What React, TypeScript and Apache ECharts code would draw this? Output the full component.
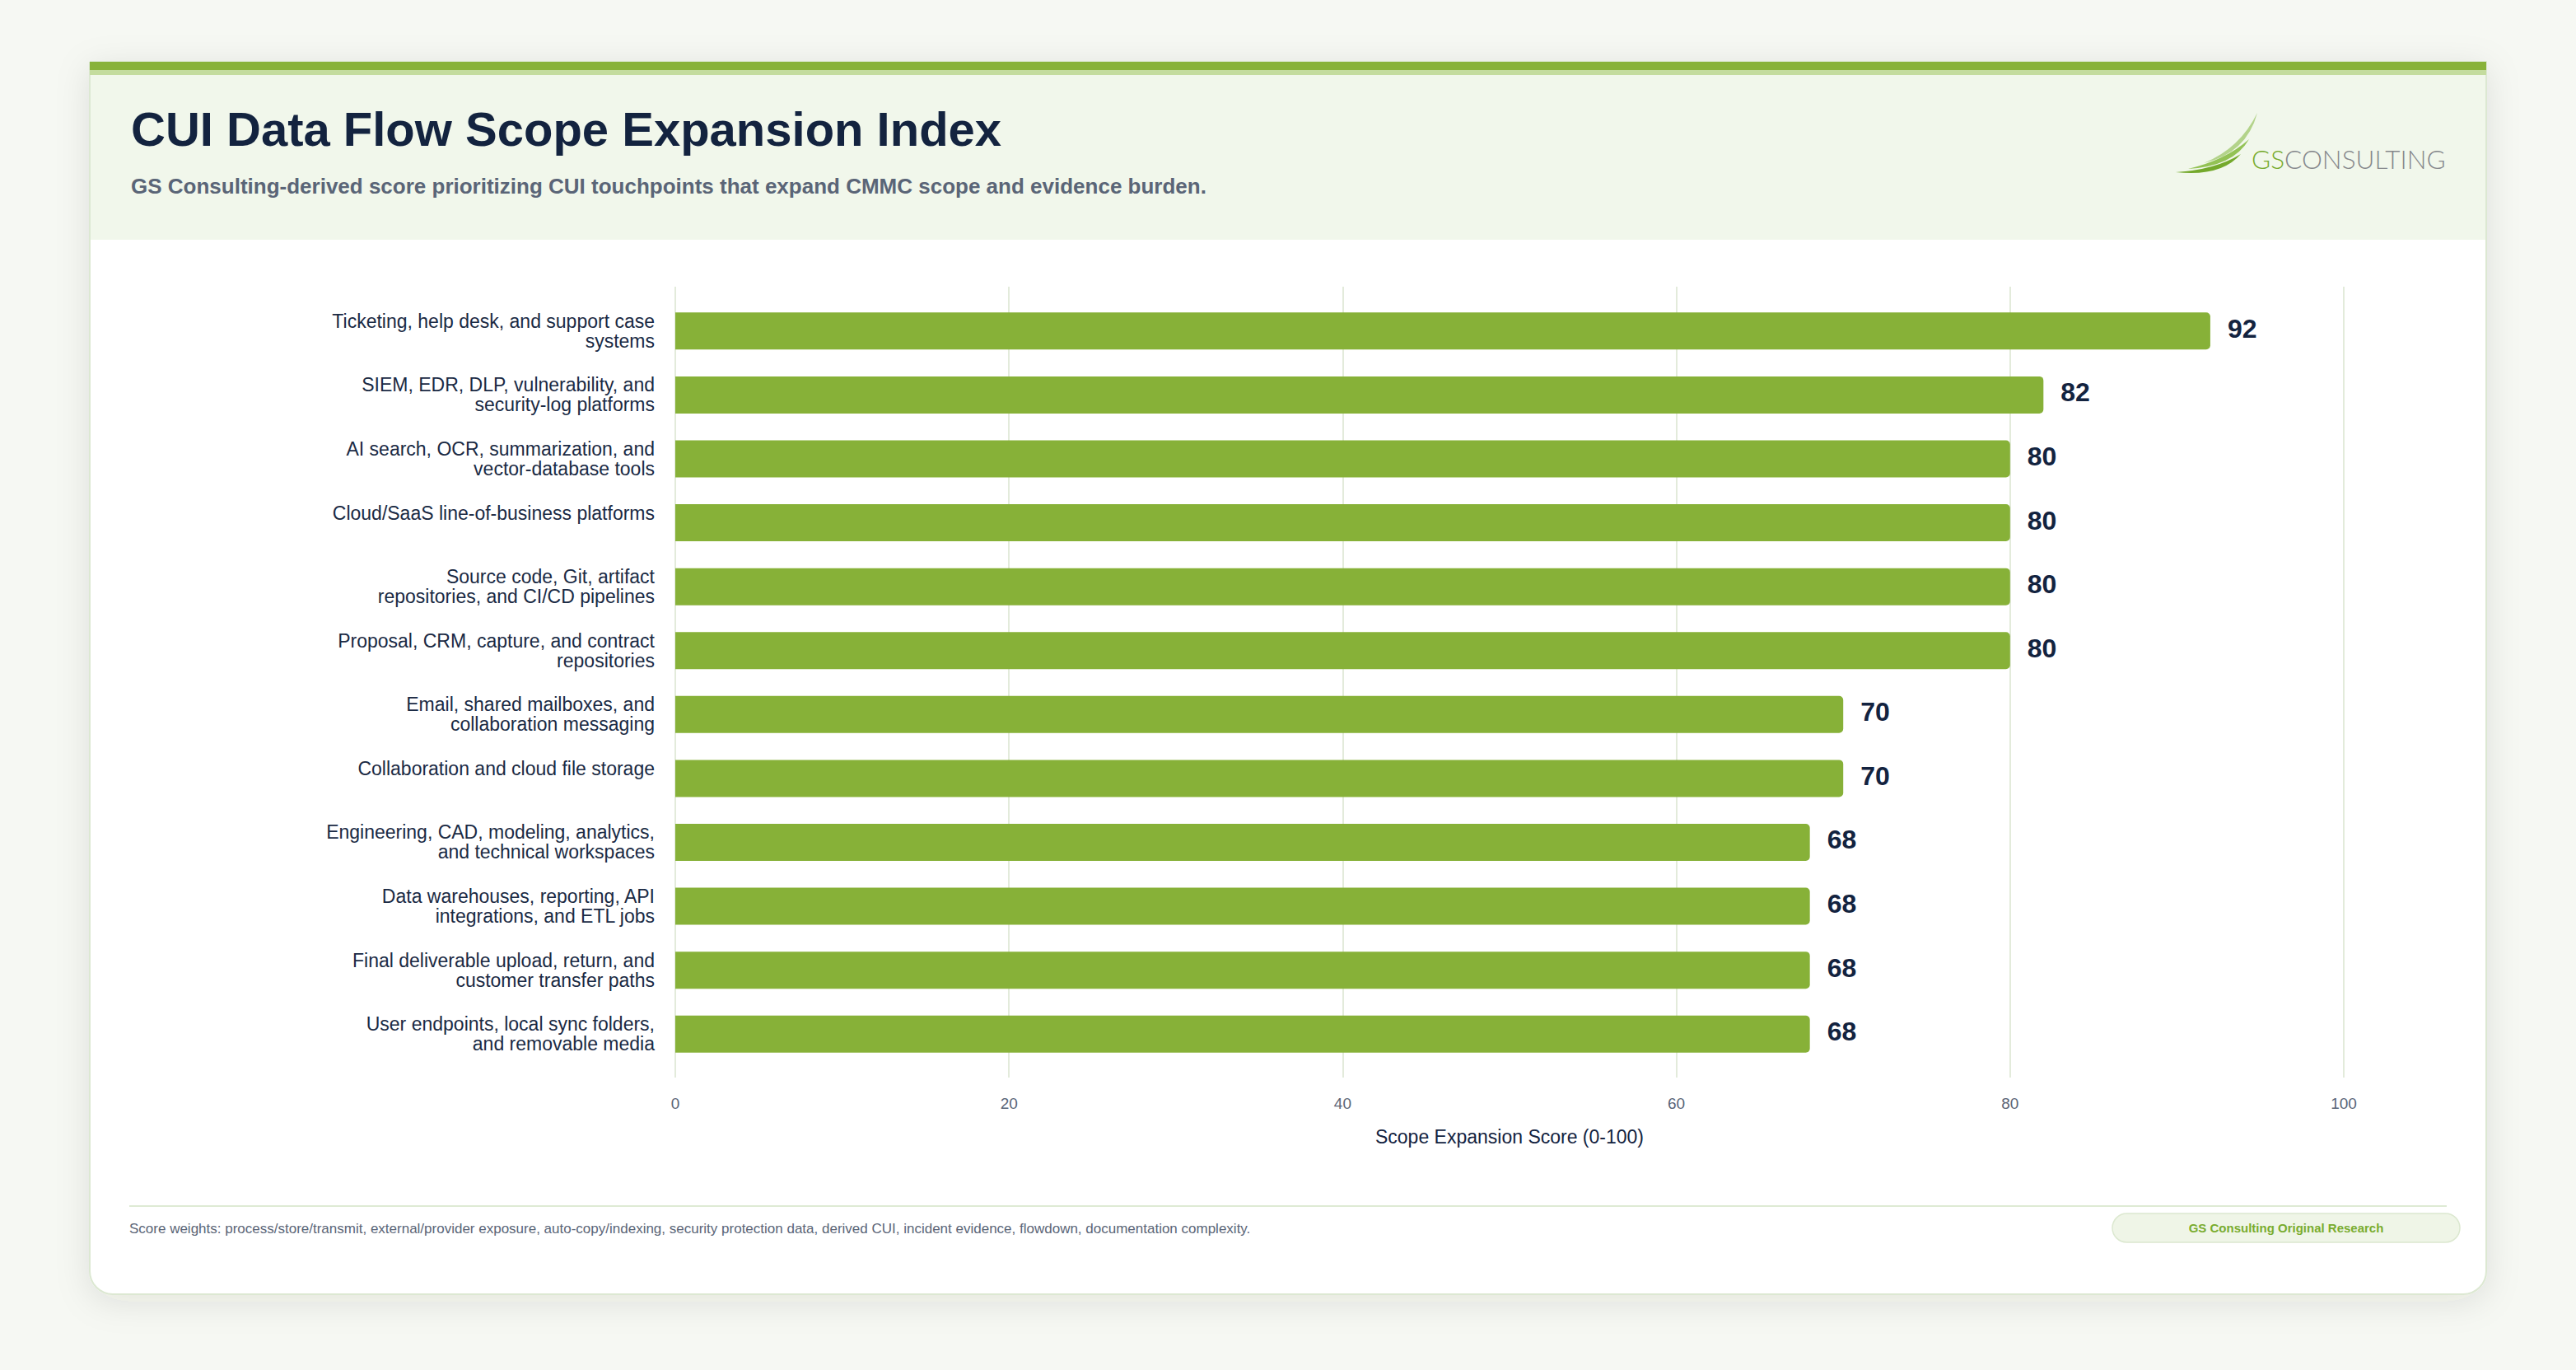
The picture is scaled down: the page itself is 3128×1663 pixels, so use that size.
import React, { useEffect, useRef } from "react";
import * as echarts from "echarts";

const categories: string[] = [
  "Ticketing, help desk, and support case\nsystems",
  "SIEM, EDR, DLP, vulnerability, and\nsecurity-log platforms",
  "AI search, OCR, summarization, and\nvector-database tools",
  "Cloud/SaaS line-of-business platforms",
  "Source code, Git, artifact\nrepositories, and CI/CD pipelines",
  "Proposal, CRM, capture, and contract\nrepositories",
  "Email, shared mailboxes, and\ncollaboration messaging",
  "Collaboration and cloud file storage",
  "Engineering, CAD, modeling, analytics,\nand technical workspaces",
  "Data warehouses, reporting, API\nintegrations, and ETL jobs",
  "Final deliverable upload, return, and\ncustomer transfer paths",
  "User endpoints, local sync folders,\nand removable media",
];

const scores: number[] = [92, 82, 80, 80, 80, 80, 70, 70, 68, 68, 68, 68];

const titleText = "CUI Data Flow Scope Expansion Index";
const subtitleText =
  "GS Consulting-derived score prioritizing CUI touchpoints that expand CMMC scope and evidence burden.";
const axisName = "Scope Expansion Score (0-100)";
const footerText =
  "Score weights: process/store/transmit, external/provider exposure, auto-copy/indexing, security protection data, derived CUI, incident evidence, flowdown, documentation complexity.";
const badgeText = "GS Consulting Original Research";

const FONT = "'Liberation Sans', Arial, Helvetica, sans-serif";

let registered = false;
function registerLogo() {
  if (registered) return;
  registered = true;
  echarts.graphic.registerShape(
    "logoArcA",
    echarts.graphic.extendPath("M2676 198 Q2728 186 2741 137 Q2720 180 2676 198 Z", {})
  );
  echarts.graphic.registerShape(
    "logoArcB",
    echarts.graphic.extendPath("M2657 205 Q2712 202 2731 169 Q2703 194 2657 205 Z", {})
  );
  echarts.graphic.registerShape(
    "logoArcC",
    echarts.graphic.extendPath("M2642 209 Q2697 215 2721 187 Q2690 206 2642 209 Z", {})
  );
}

export default function App() {
  const ref = useRef<HTMLDivElement>(null);

  useEffect(() => {
    if (!ref.current) return;
    registerLogo();
    const chart = echarts.init(ref.current, null, { renderer: "svg" });

    const labelFormatter = (v: string) => (v.indexOf("\n") >= 0 ? v : v + "\n\u00a0");

    const option: any = {
      animation: false,
      backgroundColor: "#f6f8f3",
      grid: [
        { left: 820, right: 282, top: 363, height: 931, containLabel: false },
        { left: 820, right: 282, top: 348, height: 960, containLabel: false },
      ],
      xAxis: [
        {
          gridIndex: 0,
          type: "value",
          min: 0,
          max: 100,
          interval: 20,
          show: false,
          splitLine: { show: false },
        },
        {
          gridIndex: 1,
          type: "value",
          min: 0,
          max: 100,
          interval: 20,
          axisLine: { show: false },
          axisTick: { show: false },
          splitLine: { show: true, lineStyle: { color: "#e3ebdb", width: 2 } },
          axisLabel: { color: "#5a6577", fontSize: 19, margin: 22, fontFamily: FONT },
          name: axisName,
          nameLocation: "middle",
          nameGap: 60,
          nameTextStyle: { color: "#13233f", fontSize: 23, fontFamily: FONT },
        },
      ],
      yAxis: [
        {
          gridIndex: 0,
          type: "category",
          inverse: true,
          data: categories,
          axisLine: { show: false },
          axisTick: { show: false },
          splitLine: { show: false },
          axisLabel: {
            color: "#1a2a44",
            fontSize: 23,
            lineHeight: 24,
            margin: 25,
            align: "right",
            fontFamily: FONT,
            formatter: labelFormatter,
          },
        },
        {
          gridIndex: 1,
          type: "value",
          show: false,
        },
      ],
      series: [
        {
          type: "bar",
          xAxisIndex: 0,
          yAxisIndex: 0,
          data: scores,
          barWidth: 45,
          itemStyle: { color: "#87b138", borderRadius: [0, 5, 5, 0] },
          label: {
            show: true,
            position: "right",
            distance: 21,
            offset: [0, -3],
            color: "#13233f",
            fontSize: 32,
            fontWeight: "bold",
            fontFamily: FONT,
          },
        },
      ],
      graphic: [
        {
          type: "rect",
          z: -10,
          shape: { x: 109, y: 75, width: 2910, height: 1496, r: [0, 0, 28, 28] },
          style: {
            fill: "#ffffff",
            stroke: "#dce8d2",
            lineWidth: 2,
            shadowBlur: 40,
            shadowColor: "rgba(40,60,20,0.10)",
            shadowOffsetY: 8,
          },
        },
        {
          type: "rect",
          z: -9,
          shape: { x: 110, y: 91, width: 2908, height: 200 },
          style: { fill: "#f1f7eb" },
        },
        {
          type: "rect",
          z: -9,
          shape: { x: 109, y: 75, width: 2910, height: 10 },
          style: { fill: "#88b23a" },
        },
        {
          type: "rect",
          z: -9,
          shape: { x: 109, y: 85, width: 2910, height: 6 },
          style: { fill: "#c4dc9e" },
        },
        {
          type: "text",
          z: 10,
          x: 159,
          y: 156,
          style: {
            text: titleText,
            fill: "#13233f",
            font: `bold 58px ${FONT}`,
            verticalAlign: "middle",
            align: "left",
          },
        },
        {
          type: "text",
          z: 10,
          x: 159,
          y: 226,
          style: {
            text: subtitleText,
            fill: "#5a6577",
            font: `bold 26px ${FONT}`,
            verticalAlign: "middle",
            align: "left",
          },
        },
        { type: "logoArcA", z: 10, style: { fill: "#b3d38a" } },
        { type: "logoArcB", z: 10, style: { fill: "#93c255" } },
        { type: "logoArcC", z: 10, style: { fill: "#74a92c" } },
        {
          type: "text",
          z: 10,
          x: 2734,
          y: 193,
          style: {
            text: "{g|GS}{c|CONSULTING}",
            verticalAlign: "middle",
            align: "left",
            rich: {
              g: { fill: "#76aa2b", fontSize: 31.5, fontWeight: 300, fontFamily: "Lato" },
              c: { fill: "#85878b", fontSize: 31.5, fontWeight: 300, fontFamily: "Lato" },
            },
          },
        },
        {
          type: "line",
          z: 5,
          shape: { x1: 157, y1: 1464, x2: 2971, y2: 1464 },
          style: { stroke: "#deead4", lineWidth: 2 },
        },
        {
          type: "text",
          z: 10,
          x: 157,
          y: 1491,
          style: {
            text: footerText,
            fill: "#5a6577",
            font: `17px ${FONT}`,
            verticalAlign: "middle",
            align: "left",
          },
        },
        {
          type: "rect",
          z: 5,
          shape: { x: 2565, y: 1473, width: 422, height: 35, r: 17.5 },
          style: { fill: "#eff5e7", stroke: "#dce8d0", lineWidth: 1.5 },
        },
        {
          type: "text",
          z: 10,
          x: 2776,
          y: 1490,
          style: {
            text: badgeText,
            fill: "#79ac2f",
            font: `bold 15px ${FONT}`,
            verticalAlign: "middle",
            align: "center",
          },
        },
      ],
    };

    chart.setOption(option);
    return () => {
      chart.dispose();
    };
  }, []);

  return (
    <div
      ref={ref}
      style={{ position: "fixed", left: 0, top: 0, width: 3128, height: 1663 }}
    />
  );
}
